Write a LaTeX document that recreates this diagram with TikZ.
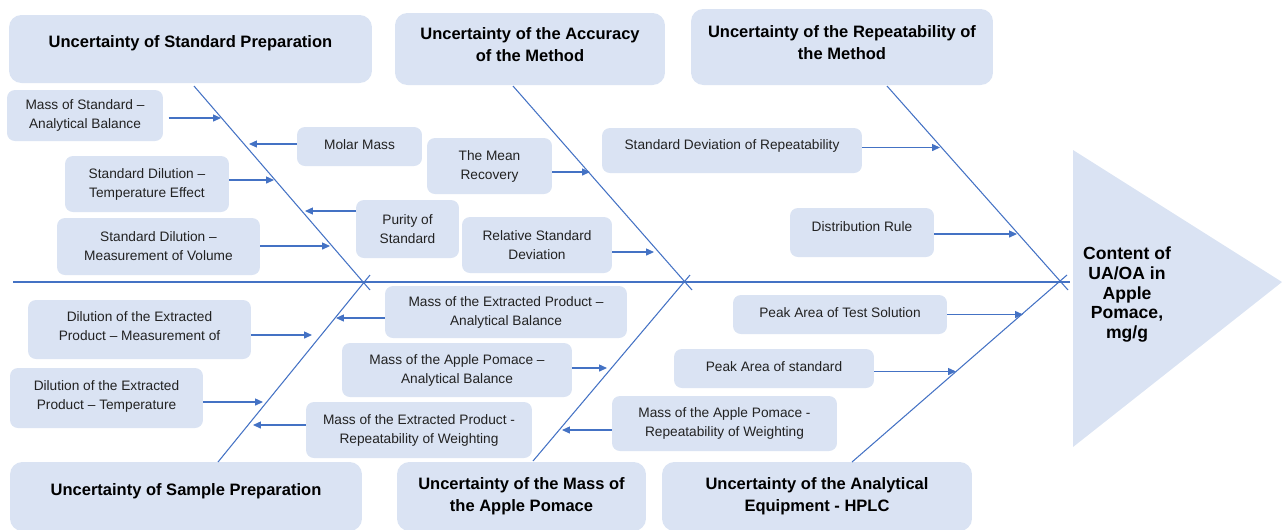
\documentclass[tikz,border=0pt]{standalone}
\usepackage{fontspec}
\setmainfont{Liberation Sans}
\usetikzlibrary{arrows.meta}
\definecolor{boxblue}{HTML}{DAE3F3}
\definecolor{lineblue}{HTML}{4472C4}
\definecolor{textgray}{HTML}{222222}

\begin{document}
\begin{tikzpicture}[x=0.02cm, y=-0.02cm,
				head/.style={fill=boxblue, rounded corners=7pt, align=center, inner sep=0pt, font=\bfseries\fontsize{9.4}{12.5}\selectfont},
				cause/.style={fill=boxblue, rounded corners=4.5pt, align=center, inner sep=0pt, text=textgray, font=\fontsize{7.8}{10.8}\selectfont},
				effect/.style={align=center, inner sep=0pt, font=\bfseries\fontsize{10}{11.3}\selectfont},
				bone/.style={draw=lineblue, line width=0.6pt},
				arrow/.style={-{Triangle[length=4.5pt, width=4pt]}, draw=lineblue, line width=0.6pt}]
				
				\useasboundingbox (0,0) rectangle (1282,529);
				
				\node[head, minimum width=7.26cm, minimum height=1.36cm, text depth=8.8pt] (stdprep) at (190.5,49) {Uncertainty of Standard Preparation};
				\node[head, minimum width=5.4cm, minimum height=1.44cm, text depth=4.7pt] (accuracy) at (530,49) {Uncertainty of the Accuracy\\of the Method};
				\node[head, minimum width=6.04cm, minimum height=1.52cm, text depth=5.5pt] (repeat) at (842,47) {Uncertainty of the Repeatability of\\the Method};
				
				\node[head, minimum width=7.04cm, minimum height=1.38cm, text depth=8.2pt] (sampprep) at (186,496.5) {Uncertainty of Sample Preparation};
				\node[head, minimum width=4.98cm, minimum height=1.38cm] (pomace) at (521.5,496.5) {Uncertainty of the Mass of\\the Apple Pomace};
				\node[head, minimum width=6.2cm, minimum height=1.38cm] (hplc) at (817,496.5) {Uncertainty of the Analytical\\Equipment - HPLC};
				
				\fill[boxblue] (1073,150) -- (1282,282) -- (1073,447) -- cycle;
				\node[effect] (effect) at (1127,294.5) {Content of\\UA/OA in\\Apple\\Pomace,\\mg/g};
				
				\node[cause, minimum width=3.12cm, minimum height=1.02cm] (stdbal) at (85,115.5) {Mass of Standard --\\Analytical Balance};
				\node[cause, minimum width=2.5cm, minimum height=0.78cm, text depth=1.7pt] (molar) at (359.5,146.5) {Molar Mass};
				\node[cause, minimum width=3.28cm, minimum height=1.12cm] (stdtemp) at (147,184) {Standard Dilution --\\Temperature Effect};
				\node[cause, minimum width=2.06cm, minimum height=1.16cm] (purity) at (407.5,229) {Purity of\\Standard};
				\node[cause, minimum width=4.06cm, minimum height=1.14cm] (stdvol) at (158.5,246.5) {Standard Dilution --\\Measurement of Volume};
				
				\node[cause, minimum width=2.5cm, minimum height=1.12cm] (recovery) at (489.5,166) {The Mean\\Recovery};
				\node[cause, minimum width=3cm, minimum height=1.12cm] (rsd) at (537,245) {Relative Standard\\Deviation};
				
				\node[cause, minimum width=5.2cm, minimum height=0.9cm, text depth=6.8pt] (sdrep) at (732,150.5) {Standard Deviation of Repeatability};
				\node[cause, minimum width=2.88cm, minimum height=0.98cm, text depth=6.8pt] (distrule) at (862,232.5) {Distribution Rule};
				
				\node[cause, minimum width=4.46cm, minimum height=1.18cm, text depth=3.7pt] (extvol) at (139.5,329.5) {Dilution of the Extracted\\Product -- Measurement of};
				\node[cause, minimum width=3.86cm, minimum height=1.2cm, text depth=3.9pt] (exttemp) at (106.5,398) {Dilution of the Extracted\\Product -- Temperature};
				
				\node[cause, minimum width=4.84cm, minimum height=1.04cm] (extbal) at (506,312) {Mass of the Extracted Product --\\Analytical Balance};
				\node[cause, minimum width=4.6cm, minimum height=1.08cm] (pombal) at (457,370) {Mass of the Apple Pomace --\\Analytical Balance};
				\node[cause, minimum width=4.52cm, minimum height=1.12cm] (extrep) at (419,430) {Mass of the Extracted Product -\\Repeatability of Weighting};
				
				\node[cause, minimum width=4.28cm, minimum height=0.78cm, text depth=1.7pt] (peaktest) at (840,314.5) {Peak Area of Test Solution};
				\node[cause, minimum width=4cm, minimum height=0.78cm, text depth=2.8pt] (peakstd) at (774,368.5) {Peak Area of standard};
				\node[cause, minimum width=4.5cm, minimum height=1.1cm] (pomrep) at (724.5,423.5) {Mass of the Apple Pomace -\\Repeatability of Weighting};
				
				\coordinate (tail) at (13,282);
				\coordinate (head) at (1070,282);
				\coordinate (b1) at (194,86);
				\coordinate (e1) at (370,290);
				\coordinate (b2) at (513,86);
				\coordinate (e2) at (692,290);
				\coordinate (b3) at (887,86);
				\coordinate (e3) at (1068,290);
				\coordinate (b4) at (218,462);
				\coordinate (e4) at (370,275);
				\coordinate (b5) at (533,461);
				\coordinate (e5) at (690,275);
				\coordinate (b6) at (852,462);
				\coordinate (e6) at (1067,275);
				
				\draw[bone] (tail) -- (head);
				\draw[bone] (b1) -- (e1);
				\draw[bone] (b2) -- (e2);
				\draw[bone] (b3) -- (e3);
				\draw[bone] (b4) -- (e4);
				\draw[bone] (b5) -- (e5);
				\draw[bone] (b6) -- (e6);
				
				\coordinate (tstdbal) at (221,118);
				\coordinate (tmolar) at (249,144);
				\coordinate (tstdtemp) at (274,180);
				\coordinate (tpurity) at (305,211);
				\coordinate (tstdvol) at (330,246);
				\coordinate (trecovery) at (590,172);
				\coordinate (trsd) at (654,252);
				\coordinate (tsdrep) at (940,147.5);
				\coordinate (tdistrule) at (1017,234);
				\coordinate (textvol) at (312,335);
				\coordinate (texttemp) at (263,402);
				\coordinate (textbal) at (336,318);
				\coordinate (tpombal) at (607,368);
				\coordinate (textrep) at (253,425);
				\coordinate (tpeaktest) at (1023,314.5);
				\coordinate (tpeakstd) at (956,371.5);
				\coordinate (tpomrep) at (562,430);
				
				\draw[arrow] ([xshift=3pt]stdbal.east |- tstdbal) -- (tstdbal);
				\draw[arrow] (molar.west |- tmolar) -- (tmolar);
				\draw[arrow] (stdtemp.east |- tstdtemp) -- (tstdtemp);
				\draw[arrow] (purity.west |- tpurity) -- (tpurity);
				\draw[arrow] (stdvol.east |- tstdvol) -- (tstdvol);
				\draw[arrow] (recovery.east |- trecovery) -- (trecovery);
				\draw[arrow] (rsd.east |- trsd) -- (trsd);
				\draw[arrow] (sdrep.east |- tsdrep) -- (tsdrep);
				\draw[arrow] (distrule.east |- tdistrule) -- (tdistrule);
				\draw[arrow] (extvol.east |- textvol) -- (textvol);
				\draw[arrow] (exttemp.east |- texttemp) -- (texttemp);
				\draw[arrow] (extbal.west |- textbal) -- (textbal);
				\draw[arrow] (pombal.east |- tpombal) -- (tpombal);
				\draw[arrow] (extrep.west |- textrep) -- (textrep);
				\draw[arrow] (peaktest.east |- tpeaktest) -- (tpeaktest);
				\draw[arrow] (peakstd.east |- tpeakstd) -- (tpeakstd);
				\draw[arrow] (pomrep.west |- tpomrep) -- (tpomrep);
\end{tikzpicture}
\end{document}
